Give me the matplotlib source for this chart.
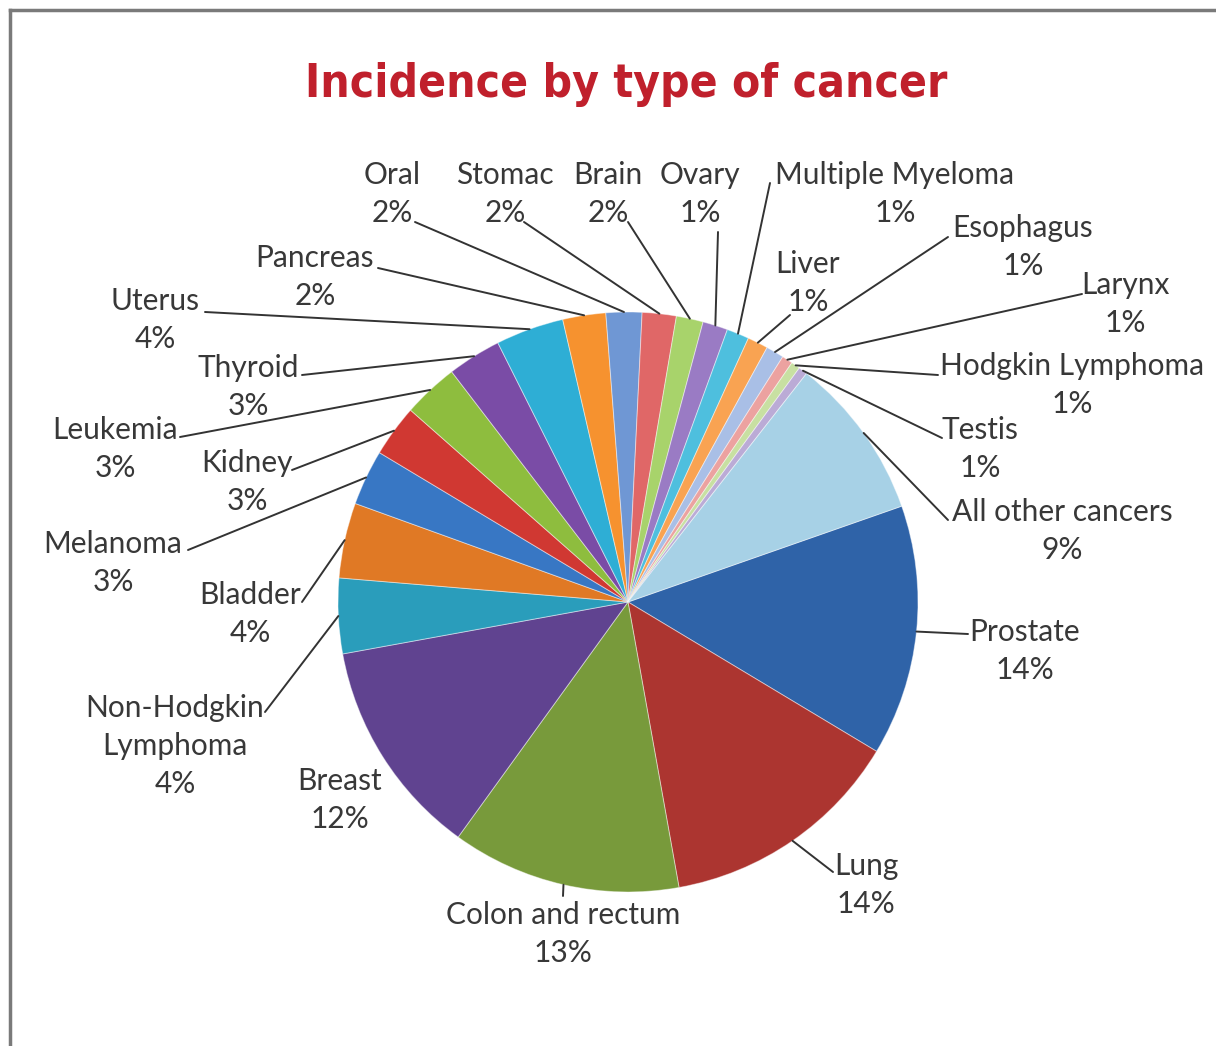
import matplotlib
matplotlib.use("Agg")
import matplotlib.pyplot as plt
from matplotlib.lines import Line2D
import numpy as np

# ── data (clockwise from Prostate) ──────────────────────────────────────────
cancer_types = [
    "Prostate", "Lung", "Colon and rectum", "Breast", "Non-Hodgkin\nLymphoma",
    "Bladder", "Melanoma", "Kidney", "Leukemia", "Thyroid", "Uterus",
    "Pancreas", "Oral", "Stomac", "Brain", "Ovary", "Multiple Myeloma",
    "Liver", "Esophagus", "Larynx", "Hodgkin Lymphoma", "Testis",
    "All other cancers",
]
shares = [14.0, 13.6, 12.8, 12.2, 4.2, 4.2, 3.1, 2.9, 3.1, 3.0, 3.8,
          2.4, 2.0, 1.9, 1.5, 1.4, 1.25, 1.15, 1.0, 0.6, 0.5, 0.5, 9.1]
pct_labels = ["14%", "14%", "13%", "12%", "4%", "4%", "3%", "3%", "3%", "3%",
              "4%", "2%", "2%", "2%", "2%", "1%", "1%", "1%", "1%", "1%",
              "1%", "1%", "9%"]

colors = [
    "#2f63a8", "#ac3530", "#789a3b", "#604390", "#2a9dbb", "#e07925",
    "#3877c4", "#d03832", "#8ebd3e", "#7a4ca6", "#2eaed5", "#f6922f",
    "#6f97d4", "#e06767", "#a8d36b", "#9a7bc4", "#4ebfde", "#f9a352",
    "#a9bfe6", "#eca2a0", "#c8e0a2", "#bbabd6", "#a7d1e6",
]

# ── layout (pixels of the 1216x1046 canvas) ─────────────────────────────────
W, H = 1216, 1046
CX, CY, R = 628, 602, 290

# text block centre, leader anchor (None = no leader)
label_pos = [
    ((1025, 651), (968, 634)),
    ((866, 885), (833, 872)),
    ((563, 934), (563, 896)),
    ((340, 800), None),
    ((175, 746), (265, 712)),
    ((250, 614), (302, 602)),
    ((113, 563), (188, 550)),
    ((247, 482), (292, 470)),
    ((115, 449), (180, 437)),
    ((248, 387), (302, 375)),
    ((155, 320), (205, 312)),
    ((315, 277), (378, 268)),
    ((392, 194), (415, 222)),
    ((505, 194), (524, 222)),
    ((608, 194), (628, 222)),
    ((700, 194), (718, 232)),
    ((895, 194), (770, 183)),
    ((808, 283), (790, 315)),
    ((1023, 247), (948, 237)),
    ((1125, 304), (1082, 294)),
    ((1072, 385), (938, 375)),
    ((980, 449), (942, 438)),
    ((1062, 531), (948, 520)),
]


def px(x, y):
    """pixel (from top-left) -> data units of the pie axes"""
    return (x - CX) / R, (CY - y) / R


fig = plt.figure(figsize=(W / 100, H / 100), dpi=100)
ax = fig.add_axes([0, 0, 1, 1])

wedges, _ = ax.pie(
    shares, colors=colors, startangle=19.3, counterclock=False, radius=1.0,
    wedgeprops=dict(edgecolor=(1, 1, 1, 0.45), linewidth=0.7),
)
# pie() resets the limits, so fix them afterwards
ax.set_xlim(-CX / R, (W - CX) / R)
ax.set_ylim(-(H - CY) / R, CY / R)
ax.set_aspect("auto")
ax.axis("off")

label_font = dict(family=["Lato", "DejaVu Sans"], size=21.5, color="#383838")

for w, name, pct, (tpos, anchor) in zip(wedges, cancer_types, pct_labels, label_pos):
    tx, ty = px(*tpos)
    ax.text(tx, ty, f"{name}\n{pct}", ha="center", va="center",
            multialignment="center", linespacing=1.42, **label_font)
    if anchor is not None:
        mid = np.deg2rad((w.theta1 + w.theta2) / 2)
        ax.plot([px(*anchor)[0], np.cos(mid)], [px(*anchor)[1], np.sin(mid)],
                color="#333333", lw=1.4, solid_capstyle="round")

# title
fig.text(626 / W, 1 - 85 / H, "Incidence by type of cancer", ha="center",
         va="center", color="#c0202c", fontsize=33, fontweight="bold",
         fontstretch="condensed", family=["DejaVu Sans"])

# grey frame (top and left edges only visible)
fig.add_artist(Line2D([10 / W, 1], [1 - 10 / H, 1 - 10 / H],
                      transform=fig.transFigure, color="#7a7a7a", lw=2.5))
fig.add_artist(Line2D([10 / W, 10 / W], [0, 1 - 10 / H],
                      transform=fig.transFigure, color="#7a7a7a", lw=2.5))

fig.savefig("out.png", dpi=100)
